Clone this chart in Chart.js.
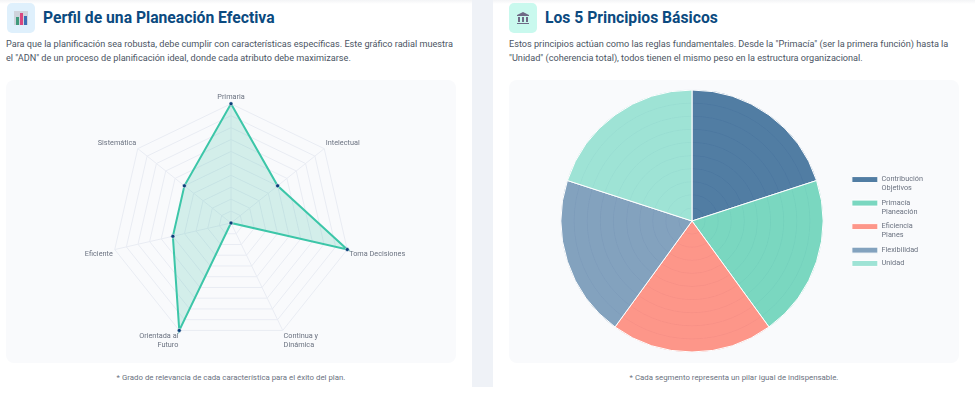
<!DOCTYPE html>
<html lang="es">
<head>
<meta charset="utf-8">
<title>Planeación</title>
<script src="https://cdn.jsdelivr.net/npm/chart.js@4"></script>
<style>
    html, body { margin: 0; padding: 0; background: #fff; width: 975px; height: 393px; overflow: hidden; font-family: Roboto, sans-serif; }
    .gutter { position: absolute; left: 472px; top: 0; width: 21px; height: 387px; background: #eff2f7; }
    .topshade { position: absolute; left: 0; top: 0; width: 975px; height: 4px; background: linear-gradient(#f3f4f6, #fff); }
    .icon { position: absolute; top: 3px; width: 28px; height: 30px; border-radius: 5px; }
    .icon svg { position: absolute; left: 7px; top: 8px; }
    h2 { position: absolute; top: 7px; margin: 0; font-size: 15.7px; line-height: 22px; font-weight: 700; color: #0b4a80; white-space: nowrap; }
    p { position: absolute; margin: 0; font-size: 9.15px; line-height: 13.5px; color: #4b5563; white-space: nowrap; }
    .note { font-size: 7.85px; color: #6b7280; text-align: center; }
    .box { position: absolute; top: 80px; width: 450px; height: 283px; background: #f9fafc; border-radius: 8px; }
    canvas { display: block; }
</style>
</head>
<body>
<div class="topshade"></div>
<div class="gutter"></div>

<div class="icon" style="left:7px;background:#dff0fc">
    <svg width="14" height="14"><rect width="14" height="14" fill="#cfd3dc"/><rect x="2" y="6" width="3" height="8" fill="#3f9a7c"/><rect x="6" y="2" width="3" height="12" fill="#d9467f"/><rect x="10" y="5" width="3" height="9" fill="#3a6fb5"/></svg>
</div>
<h2 style="left:43px">Perfil de una Planeación Efectiva</h2>
<p style="left:6px;top:38px">Para que la planificación sea robusta, debe cumplir con características específicas. Este gráfico radial muestra<br>el "ADN" de un proceso de planificación ideal, donde cada atributo debe maximizarse.</p>
<div class="box" style="left:6px"><canvas id="radarChart" width="450" height="283"></canvas></div>
<p class="note" style="left:6px;top:371px;width:450px">* Grado de relevancia de cada característica para el éxito del plan.</p>

<div class="icon" style="left:509px;background:#c9f9ee">
    <svg width="14" height="14"><path d="M7 1 L13 4 L13 5 L1 5 L1 4 Z M2 6 H4 V11 H2 Z M6 6 H8 V11 H6 Z M10 6 H12 V11 H10 Z M1 12 H13 V13 H1 Z" fill="#6f6a86"/></svg>
</div>
<h2 style="left:545px">Los 5 Principios Básicos</h2>
<p style="left:509px;top:38px">Estos principios actúan como las reglas fundamentales. Desde la "Primacía" (ser la primera función) hasta la<br>"Unidad" (coherencia total), todos tienen el mismo peso en la estructura organizacional.</p>
<div class="box" style="left:509px"><canvas id="polarChart" width="450" height="283"></canvas></div>
<p class="note" style="left:509px;top:371px;width:450px">* Cada segmento representa un pilar igual de indispensable.</p>

<script>
// Radar: atributos de la planeacion
const radarLabels = ['Primaria', 'Intelectual', 'Toma Decisiones', ['Continua y', 'Dinámica'], ['Orientada al', 'Futuro'], 'Eficiente', 'Sistemática'];
const radarValues = [10, 5, 10, 0, 10, 5, 5];

// Polar: los 5 principios, todos con el mismo peso
const polarLabels = [['Contribución', 'Objetivos'], ['Primacía', 'Planeación'], ['Eficiencia', 'Planes'], 'Flexibilidad', 'Unidad'];
const polarValues = [20, 20, 20, 20, 20];
const polarColors = ['rgba(10, 71, 125, 0.7)', 'rgba(69, 199, 167, 0.7)', 'rgba(255, 107, 89, 0.7)', 'rgba(81, 124, 164, 0.7)', 'rgba(120, 217, 196, 0.7)'];

Chart.defaults.font.family = 'Roboto, sans-serif';
Chart.defaults.animation = false;

new Chart(document.getElementById('radarChart'), {
    type: 'radar',
    data: {
        labels: radarLabels,
        datasets: [{
            data: radarValues,
            borderColor: '#3cc6a8',
            backgroundColor: 'rgba(60, 190, 165, 0.2)',
            borderWidth: 2,
            pointRadius: 2,
            pointBackgroundColor: '#0b3f7a',
            pointBorderColor: '#ffffff',
            pointBorderWidth: 0.5
        }]
    },
    options: {
        responsive: false,
        layout: { padding: { top: 11, bottom: 11 } },
        plugins: { legend: { display: false } },
        scales: {
            r: {
                min: 0,
                max: 10,
                ticks: { display: false, stepSize: 1 },
                grid: { color: '#e9ecf3' },
                angleLines: { color: '#e9ecf3' },
                pointLabels: { color: '#6b7280', font: { size: 7.3 }, padding: 2 }
            }
        }
    }
});

new Chart(document.getElementById('polarChart'), {
    type: 'polarArea',
    data: {
        labels: polarLabels,
        datasets: [{
            data: polarValues,
            backgroundColor: polarColors,
            borderColor: '#ffffff',
            borderWidth: 1
        }]
    },
    options: {
        responsive: false,
        layout: { padding: { left: 30, right: 26, top: 10, bottom: 10 } },
        plugins: {
            legend: {
                position: 'right',
                labels: { boxWidth: 26, boxHeight: 6, padding: 6, color: '#6b7280', font: { size: 7.3 } }
            }
        },
        scales: {
            r: {
                min: 0,
                max: 20,
                ticks: { display: false, stepSize: 2 },
                grid: { color: '#e6eaf0' },
                angleLines: { display: false }
            }
        }
    }
});
</script>
</body>
</html>
